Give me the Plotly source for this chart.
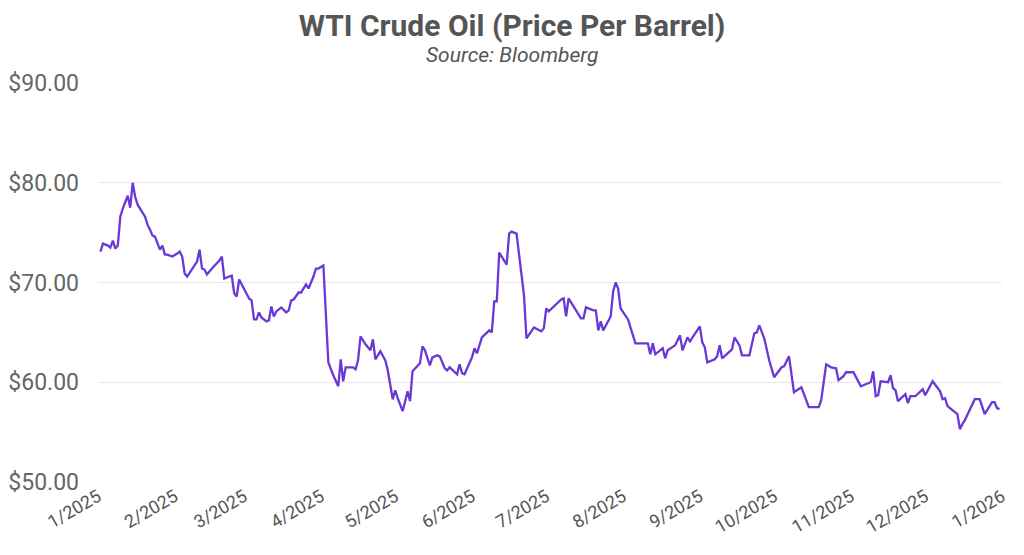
import plotly.graph_objects as go

dates = [
 "2025-01-02","2025-01-03","2025-01-05","2025-01-06","2025-01-07","2025-01-08","2025-01-09","2025-01-10","2025-01-11","2025-01-13",
 "2025-01-14","2025-01-15","2025-01-16","2025-01-17","2025-01-20","2025-01-21","2025-01-22","2025-01-23","2025-01-24","2025-01-25",
 "2025-01-26","2025-01-27","2025-01-28","2025-01-29","2025-01-31","2025-02-02","2025-02-03","2025-02-04","2025-02-05","2025-02-06",
 "2025-02-08","2025-02-10","2025-02-11","2025-02-12","2025-02-13","2025-02-14","2025-02-16","2025-02-19","2025-02-20","2025-02-21",
 "2025-02-23","2025-02-24","2025-02-25","2025-02-26","2025-02-27","2025-03-01","2025-03-03","2025-03-04","2025-03-05","2025-03-06",
 "2025-03-07","2025-03-08","2025-03-10","2025-03-11","2025-03-12","2025-03-13","2025-03-14","2025-03-16","2025-03-18","2025-03-19",
 "2025-03-20","2025-03-21","2025-03-23","2025-03-24","2025-03-26","2025-03-27","2025-03-29","2025-03-30","2025-03-31","2025-04-02",
 "2025-04-04","2025-04-06","2025-04-08","2025-04-09","2025-04-10","2025-04-11","2025-04-14","2025-04-15","2025-04-16","2025-04-17",
 "2025-04-19","2025-04-21","2025-04-22","2025-04-23","2025-04-25","2025-04-27","2025-04-28","2025-04-30","2025-05-01","2025-05-02",
 "2025-05-04","2025-05-06","2025-05-07","2025-05-08","2025-05-11","2025-05-12","2025-05-13","2025-05-15","2025-05-16","2025-05-18",
 "2025-05-19","2025-05-21","2025-05-22","2025-05-23","2025-05-26","2025-05-27","2025-05-28","2025-05-29","2025-06-01","2025-06-02",
 "2025-06-03","2025-06-05","2025-06-08","2025-06-09","2025-06-10","2025-06-11","2025-06-12","2025-06-15","2025-06-16","2025-06-17",
 "2025-06-19","2025-06-22","2025-06-23","2025-06-26","2025-06-29","2025-06-30","2025-07-01","2025-07-02","2025-07-07","2025-07-08",
 "2025-07-09","2025-07-10","2025-07-15","2025-07-16","2025-07-17","2025-07-20","2025-07-21","2025-07-22","2025-07-23","2025-07-24",
 "2025-07-27","2025-07-28","2025-07-29","2025-07-30","2025-07-31","2025-08-03","2025-08-05","2025-08-06","2025-08-10","2025-08-11",
 "2025-08-12","2025-08-13","2025-08-14","2025-08-17","2025-08-18","2025-08-19","2025-08-22","2025-08-24","2025-08-25","2025-08-27",
 "2025-08-28","2025-09-01","2025-09-02","2025-09-03","2025-09-04","2025-09-07","2025-09-08","2025-09-09","2025-09-10","2025-09-14",
 "2025-09-15","2025-09-17","2025-09-18","2025-09-21","2025-09-23","2025-09-24","2025-09-25","2025-09-27","2025-09-29","2025-10-01",
 "2025-10-04","2025-10-05","2025-10-07","2025-10-09","2025-10-12","2025-10-14","2025-10-15","2025-10-19","2025-10-20","2025-10-22",
 "2025-10-24","2025-10-26","2025-10-27","2025-10-29","2025-10-30","2025-11-02","2025-11-05","2025-11-06","2025-11-09","2025-11-10",
 "2025-11-11","2025-11-12","2025-11-13","2025-11-16","2025-11-17","2025-11-18","2025-11-19","2025-11-20","2025-11-23","2025-11-24",
 "2025-11-25","2025-11-27","2025-11-30","2025-12-01","2025-12-04","2025-12-07","2025-12-08","2025-12-09","2025-12-10","2025-12-14",
 "2025-12-15","2025-12-16","2025-12-17","2025-12-21","2025-12-23","2025-12-25","2025-12-28","2025-12-29","2025-12-30","2025-12-31",
]

prices = [
 73.1,73.9,73.7,73.5,74.2,73.4,73.7,76.6,77.4,78.7,
 77.5,80.0,78.6,77.8,76.6,75.8,75.3,74.7,74.6,73.9,
 73.3,73.7,72.8,72.8,72.6,72.9,73.1,72.6,70.9,70.6,
 71.3,72.1,73.3,71.4,71.3,70.8,71.4,72.2,72.6,70.4,
 70.6,70.7,68.9,68.6,70.3,69.4,68.4,68.2,66.3,66.3,
 67.0,66.5,66.1,66.2,67.6,66.6,67.1,67.5,67.0,67.2,
 68.2,68.3,69.0,69.0,69.8,69.4,70.6,71.4,71.4,71.7,
 62.0,60.7,59.6,62.3,60.1,61.5,61.5,61.3,62.2,64.6,
 63.8,63.2,64.3,62.3,63.1,62.2,61.2,58.3,59.2,58.4,
 57.1,59.1,58.1,61.1,61.9,63.6,63.2,61.7,62.5,62.7,
 62.6,61.4,61.2,61.5,60.8,61.8,60.9,60.8,62.5,63.4,
 62.9,64.5,65.2,65.0,68.1,68.1,73.0,71.8,74.9,75.1,
 74.9,68.7,64.4,65.5,65.1,65.4,67.4,67.1,68.3,68.4,
 66.6,68.4,66.4,66.4,67.5,67.2,67.2,65.2,66.1,65.2,
 66.6,69.1,70.0,69.4,67.4,66.3,64.6,63.9,63.9,63.9,
 62.8,63.9,62.8,63.4,62.4,63.2,63.7,64.7,63.2,64.5,
 64.1,65.6,64.0,63.5,62.0,62.3,62.6,63.7,62.4,63.3,
 64.5,63.7,62.7,62.7,64.9,65.0,65.7,64.4,62.2,60.5,
 61.5,61.6,62.6,59.0,59.5,58.1,57.5,57.5,58.2,61.8,
 61.5,61.4,60.2,60.6,61.0,61.0,59.6,59.7,60.0,61.1,
 58.6,58.7,60.1,60.0,60.7,59.4,59.2,58.1,58.8,57.9,
 58.6,58.6,59.3,58.7,60.1,59.1,58.3,58.4,57.6,56.8,
 55.3,55.8,56.2,58.3,58.3,56.8,58.0,58.0,57.4,57.3,
]

tick_vals = ["2025-01-01","2025-02-01","2025-03-01","2025-04-01","2025-05-01","2025-06-01","2025-07-01",
             "2025-08-01","2025-09-01","2025-10-01","2025-11-01","2025-12-01","2026-01-01"]
tick_text = ["1/2025","2/2025","3/2025","4/2025","5/2025","6/2025","7/2025",
             "8/2025","9/2025","10/2025","11/2025","12/2025","1/2026"]
y_ticks = [50, 60, 70, 80, 90]
y_tick_text = ["$50.00", "$60.00", "$70.00", "$80.00", "$90.00"]

title_text = "WTI Crude Oil (Price Per Barrel)"
subtitle_text = "Source: Bloomberg"

W, H = 1016, 547
L, R, T, B = 90, 22, 75, 73
plot_h = H - T - B

fig = go.Figure()
fig.add_trace(go.Scatter(x=dates, y=prices, mode="lines",
                         line=dict(color="#6A38D6", width=2.3),
                         hoverinfo="x+y", showlegend=False))

fig.update_layout(
    width=W, height=H,
    paper_bgcolor="white", plot_bgcolor="white",
    margin=dict(l=L, r=R, t=T, b=B, autoexpand=False),
    font=dict(family="Roboto, Arial, sans-serif", color="#666666"),
    title=dict(text="<b>" + title_text + "</b>", x=(512 - 8) / W, xanchor="center",
               y=1 - 17 / H, yanchor="middle",
               font=dict(size=30, color="#555555", family="Roboto, Arial, sans-serif")),
    annotations=[dict(text="<i>" + subtitle_text + "</i>", xref="paper", yref="paper",
                      x=(512 - 8 - L) / (W - L - R), y=1 + (T - 47) / plot_h,
                      xanchor="center", yanchor="middle", showarrow=False,
                      font=dict(size=21, color="#555555"))],
)
fig.update_xaxes(type="date", range=["2025-01-01", "2026-01-01"],
                 tickvals=tick_vals, ticktext=tick_text, tickangle=-30,
                 showgrid=False, zeroline=False, showline=False, automargin=False,
                 tickfont=dict(size=18, color="#555555"), ticks="")
fig.update_yaxes(range=[50, 90], tickvals=y_ticks, ticktext=y_tick_text,
                 showgrid=True, gridcolor="#e8e8e8", gridwidth=1, zeroline=False,
                 showline=False, ticks="", ticklabelstandoff=18, automargin=False,
                 tickfont=dict(size=23, color="#666666"))

fig.write_html("out.html")
